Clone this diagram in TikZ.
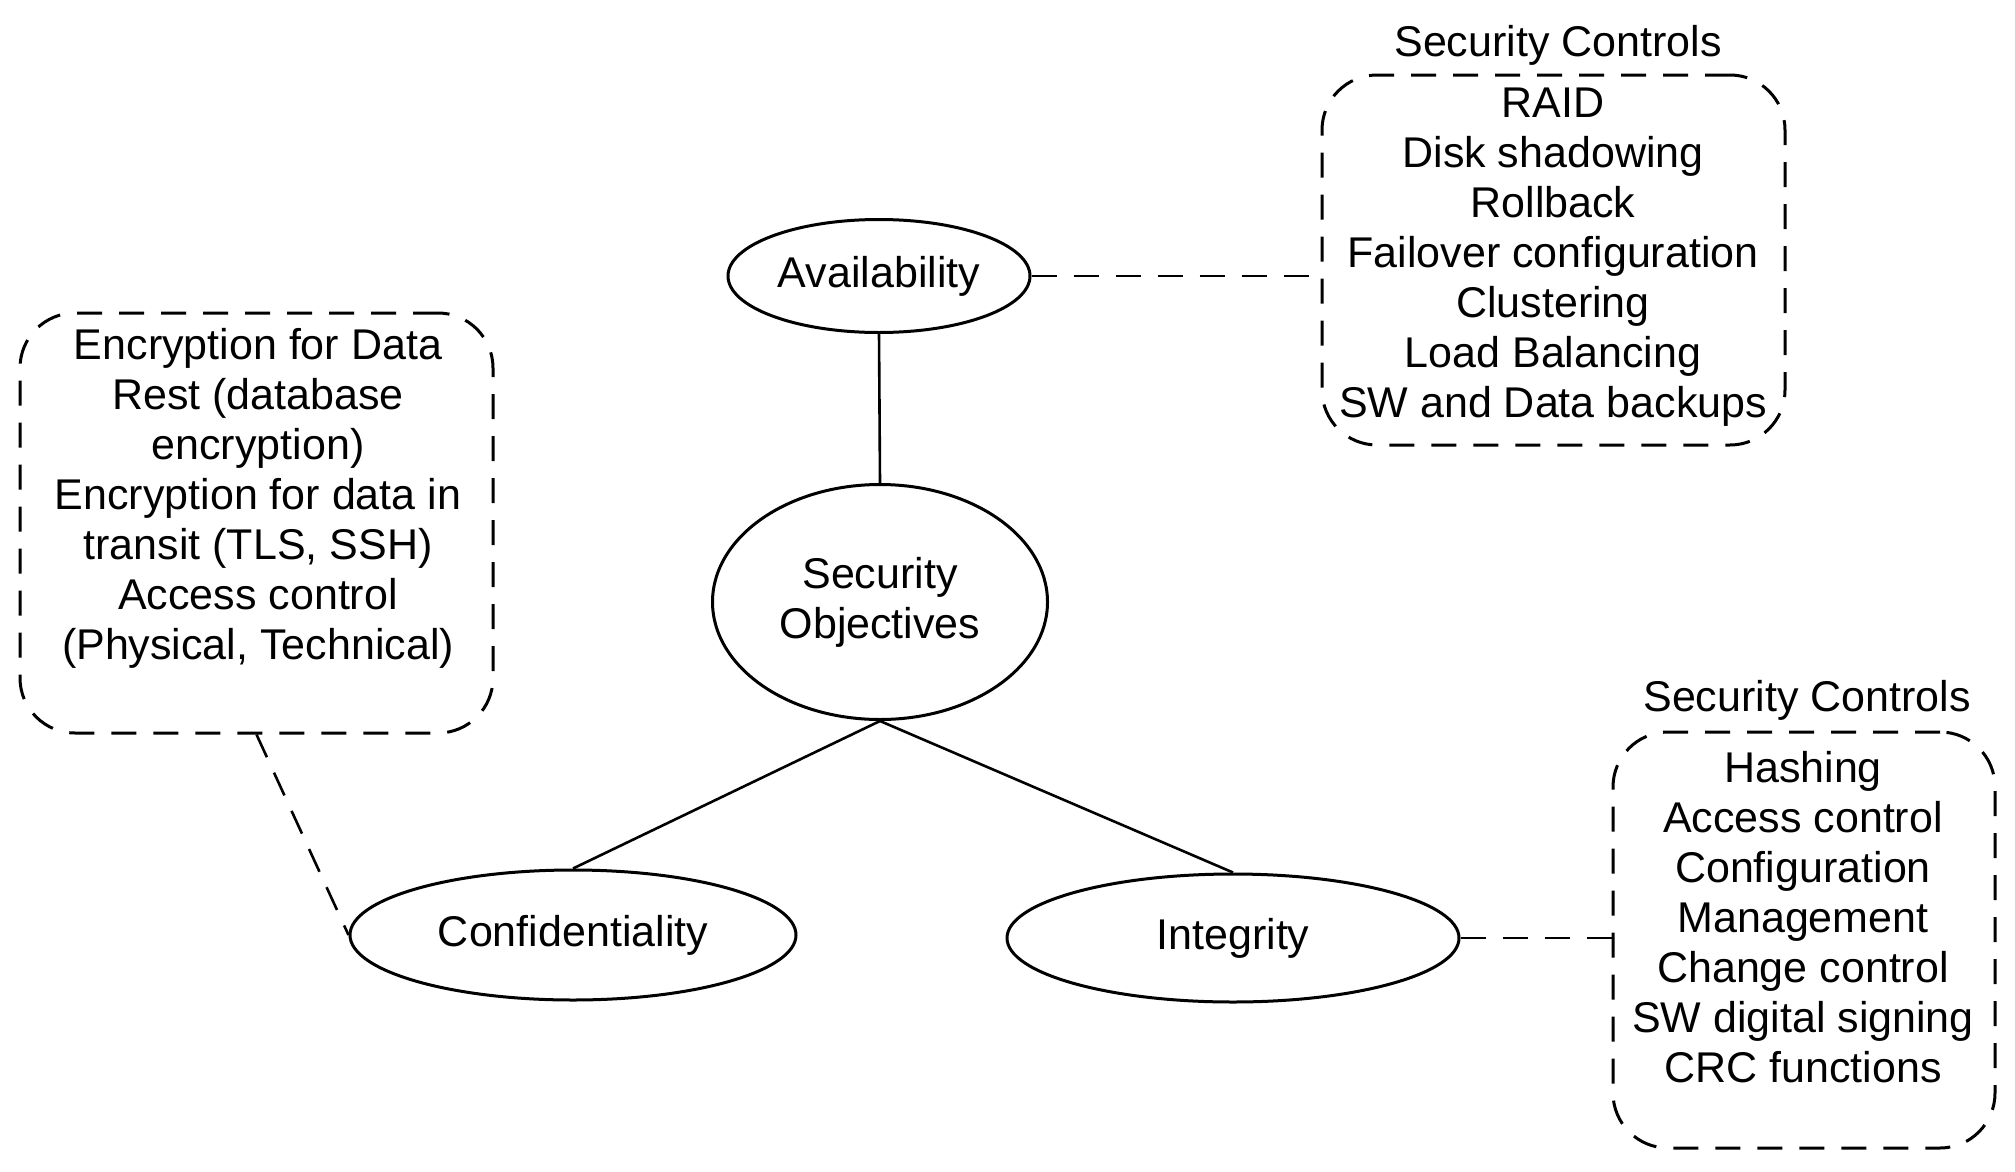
\documentclass[tikz,border=0pt]{standalone}
\usepackage{fontspec}
\setmainfont{Liberation Sans}
\usetikzlibrary{shapes.geometric}
\tikzset{
  every node/.style={font=\fontsize{43}{50}\selectfont, inner sep=0pt},
  objective/.style={draw, ellipse, line width=3pt},
  ctrlbox/.style={draw, rectangle, rounded corners=55pt, line width=3pt, dash pattern=on 25pt off 17pt},
  conn/.style={line width=2.6pt},
  dconn/.style={line width=2.6pt, dash pattern=on 25pt off 17pt},
  txt/.style={align=center}
}
\begin{document}
\begin{tikzpicture}[x=1pt,y=-1pt]
\useasboundingbox (0,0) rectangle (2015,1172);

% objectives
\node[objective, minimum width=302pt, minimum height=113pt] (avail) at (879,276) {Availability};
\node[objective, minimum width=335pt, minimum height=235pt, txt] (so) at (880,602) {Security\\Objectives};
\node[objective, minimum width=446pt, minimum height=130pt] (conf) at (573,935) {Confidentiality};
\node[objective, minimum width=452pt, minimum height=128pt] (integ) at (1233,938) {Integrity};

% control boxes
\node[ctrlbox, minimum width=473pt, minimum height=420pt] (encbox) at (256.5,523) {};
\node[txt] (enctext) at (258,498) {Encryption for Data\\Rest (database\\encryption)\\Encryption for data in\\transit (TLS, SSH)\\Access control\\(Physical, Technical)};

\node[ctrlbox, minimum width=463pt, minimum height=370pt] (availbox) at (1553.5,260) {};
\node[txt] (availtext) at (1553,257) {RAID\\Disk shadowing\\Rollback\\Failover configuration\\Clustering\\Load Balancing\\SW and Data backups};
\node (availtitle) at (1558,45) {Security Controls};

\node[ctrlbox, minimum width=382pt, minimum height=416pt] (integbox) at (1804,940) {};
\node[txt] (integtext) at (1803,917) {Hashing\\Access control\\Configuration\\Management\\Change control\\SW digital signing\\CRC functions};
\node (integtitle) at (1807,700) {Security Controls};

% connectors
\draw[conn] (avail.south) -- (so.north);
\draw[conn] (so.south) -- (conf.north);
\draw[conn] (so.south) -- (integ.north);

\draw[dconn] (avail.east) -- (avail.east -| availbox.west);
\draw[dconn] (integ.east) -- (integ.east -| integbox.west);
\draw[dconn] (encbox.south) -- (conf.west);
\end{tikzpicture}
\end{document}
